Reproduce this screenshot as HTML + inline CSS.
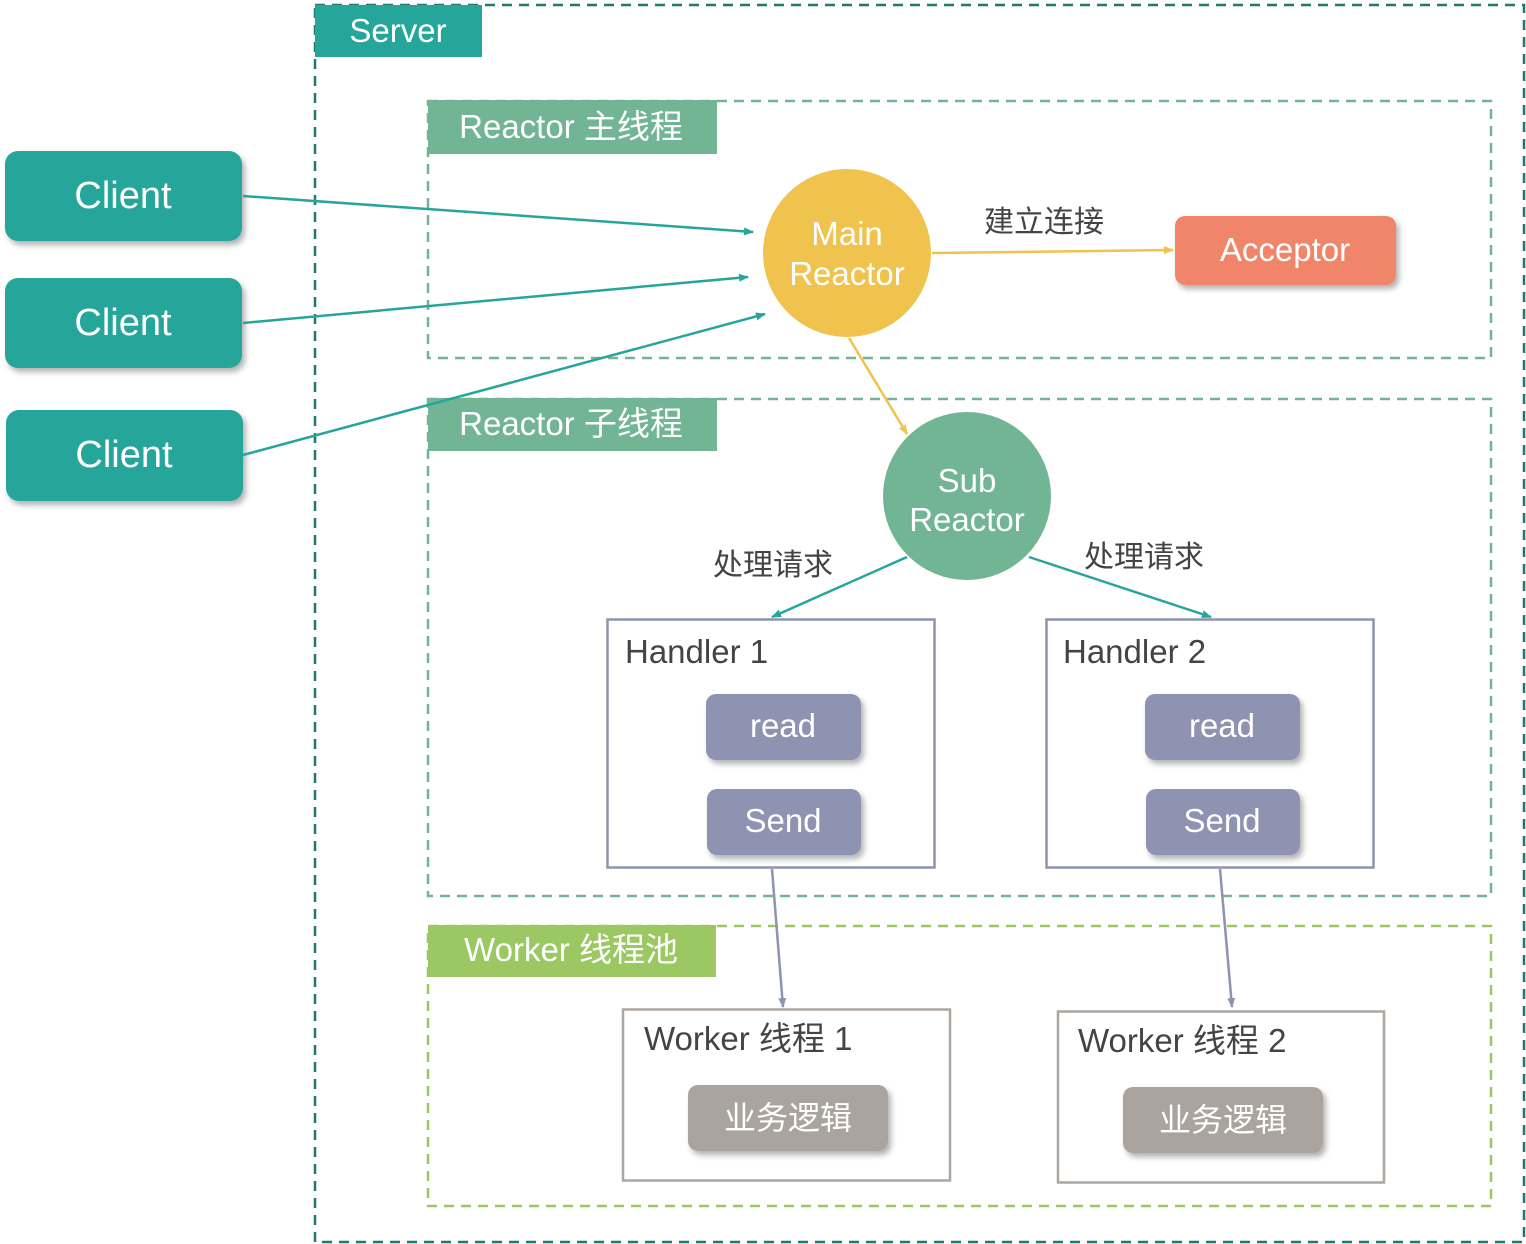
<!DOCTYPE html>
<html><head><meta charset="utf-8"><style>
html,body{margin:0;padding:0;background:#fff;}
svg{display:block;}
text{font-family:"Liberation Sans","Noto Sans CJK SC",sans-serif;}
</style></head><body>
<svg width="1526" height="1244" viewBox="0 0 1526 1244" xmlns="http://www.w3.org/2000/svg">
<defs>
<filter id="sh" x="-20%" y="-20%" width="150%" height="160%"><feDropShadow dx="3" dy="4" stdDeviation="3" flood-color="#000" flood-opacity="0.3"/></filter>
<marker id="at" markerWidth="10" markerHeight="10" refX="9" refY="5" orient="auto" markerUnits="userSpaceOnUse"><path d="M0,1 L10,5 L0,9 Z" fill="#26a69a"/></marker>
<marker id="ay" markerWidth="10" markerHeight="10" refX="9" refY="5" orient="auto" markerUnits="userSpaceOnUse"><path d="M0,1 L10,5 L0,9 Z" fill="#f0c34e"/></marker>
<marker id="ap" markerWidth="10" markerHeight="10" refX="9" refY="5" orient="auto" markerUnits="userSpaceOnUse"><path d="M0,1 L10,5 L0,9 Z" fill="#8e93b2"/></marker>
</defs>
<!-- Server -->
<rect x="315" y="5" width="1209" height="1237" fill="none" stroke="#1e7a70" stroke-width="2.5" stroke-dasharray="10,7"/>
<rect x="315" y="5" width="167" height="52" fill="#26a69a"/>
<text x="398" y="42" font-size="33" fill="#fff" text-anchor="middle">Server</text>
<!-- Reactor main -->
<rect x="428" y="101" width="1063" height="257" fill="none" stroke="#72b594" stroke-width="2.5" stroke-dasharray="10,7"/>
<rect x="428" y="100" width="289" height="54" fill="#72b594"/>
<text x="571" y="138" font-size="33" fill="#fff" text-anchor="middle">Reactor 主线程</text>
<!-- Reactor sub -->
<rect x="428" y="399" width="1063" height="497" fill="none" stroke="#72b594" stroke-width="2.5" stroke-dasharray="10,7"/>
<rect x="428" y="398" width="289" height="53" fill="#72b594"/>
<text x="571" y="435" font-size="33" fill="#fff" text-anchor="middle">Reactor 子线程</text>
<!-- Worker -->
<rect x="428" y="926" width="1063" height="280" fill="none" stroke="#9bc75d" stroke-width="2.5" stroke-dasharray="10,7"/>
<rect x="428" y="925" width="288" height="52" fill="#9bc862"/>
<text x="571" y="961" font-size="33" fill="#fff" text-anchor="middle">Worker 线程池</text>
<!-- Clients -->
<g filter="url(#sh)">
<rect x="5" y="151" width="237" height="90" rx="13" fill="#26a69a"/>
<rect x="5" y="278" width="237" height="90" rx="13" fill="#26a69a"/>
<rect x="6" y="410" width="237" height="91" rx="13" fill="#26a69a"/>
</g>
<text x="123" y="208" font-size="38" fill="#fff" text-anchor="middle">Client</text>
<text x="123" y="335" font-size="38" fill="#fff" text-anchor="middle">Client</text>
<text x="124" y="467" font-size="38" fill="#fff" text-anchor="middle">Client</text>
<!-- arrows clients -->
<line x1="243" y1="196" x2="753" y2="232" stroke="#26a69a" stroke-width="2.5" marker-end="url(#at)"/>
<line x1="243" y1="323" x2="748" y2="277" stroke="#26a69a" stroke-width="2.5" marker-end="url(#at)"/>
<line x1="243" y1="455" x2="765" y2="314" stroke="#26a69a" stroke-width="2.5" marker-end="url(#at)"/>
<!-- Main Reactor -->
<circle cx="847" cy="253" r="84" fill="#f0c34e"/>
<text x="847" y="245" font-size="33" fill="#fff" text-anchor="middle">Main</text>
<text x="847" y="285" font-size="33" fill="#fff" text-anchor="middle">Reactor</text>
<line x1="932" y1="253" x2="1173" y2="250" stroke="#f0c34e" stroke-width="2.5" marker-end="url(#ay)"/>
<text x="1044" y="232" font-size="30" fill="#444" text-anchor="middle">建立连接</text>
<rect x="1175" y="216" width="221" height="69" rx="10" fill="#f0856a" filter="url(#sh)"/>
<text x="1285" y="261" font-size="33" fill="#fff" text-anchor="middle">Acceptor</text>
<line x1="849" y1="338" x2="907" y2="434" stroke="#f0c34e" stroke-width="2.5" marker-end="url(#ay)"/>
<!-- Sub Reactor -->
<circle cx="967" cy="496" r="84" fill="#72b594"/>
<text x="967" y="492" font-size="33" fill="#fff" text-anchor="middle">Sub</text>
<text x="967" y="531" font-size="33" fill="#fff" text-anchor="middle">Reactor</text>
<line x1="907" y1="557" x2="772" y2="617" stroke="#26a69a" stroke-width="2.5" marker-end="url(#at)"/>
<line x1="1029" y1="557" x2="1211" y2="617" stroke="#26a69a" stroke-width="2.5" marker-end="url(#at)"/>
<text x="773" y="575" font-size="30" fill="#444" text-anchor="middle">处理请求</text>
<text x="1144" y="567" font-size="30" fill="#444" text-anchor="middle">处理请求</text>
<!-- Handlers -->
<rect x="607.5" y="619.5" width="327" height="248" fill="#fff" stroke="#8e93b0" stroke-width="2.5"/>
<rect x="1046.5" y="619.5" width="327" height="248" fill="#fff" stroke="#8e93b0" stroke-width="2.5"/>
<text x="625" y="663" font-size="33" fill="#444">Handler 1</text>
<text x="1063" y="663" font-size="33" fill="#444">Handler 2</text>
<g filter="url(#sh)" fill="#8e93b2">
<rect x="706" y="694" width="155" height="66" rx="10"/>
<rect x="707" y="789" width="154" height="66" rx="10"/>
<rect x="1145" y="694" width="155" height="66" rx="10"/>
<rect x="1146" y="789" width="154" height="66" rx="10"/>
</g>
<text x="783" y="737" font-size="33" fill="#fff" text-anchor="middle">read</text>
<text x="783" y="832" font-size="33" fill="#fff" text-anchor="middle">Send</text>
<text x="1222" y="737" font-size="33" fill="#fff" text-anchor="middle">read</text>
<text x="1222" y="832" font-size="33" fill="#fff" text-anchor="middle">Send</text>
<line x1="772" y1="869" x2="783" y2="1007" stroke="#8e93b2" stroke-width="2.5" marker-end="url(#ap)"/>
<line x1="1220" y1="869" x2="1232" y2="1007" stroke="#8e93b2" stroke-width="2.5" marker-end="url(#ap)"/>
<!-- Workers -->
<rect x="623" y="1009.5" width="327" height="171" fill="#fff" stroke="#ada6a0" stroke-width="2.5"/>
<rect x="1058" y="1011.5" width="326" height="171" fill="#fff" stroke="#ada6a0" stroke-width="2.5"/>
<text x="644" y="1050" font-size="33" fill="#444">Worker 线程 1</text>
<text x="1078" y="1052" font-size="33" fill="#444">Worker 线程 2</text>
<g filter="url(#sh)" fill="#aba49e">
<rect x="688" y="1085" width="200" height="66" rx="10"/>
<rect x="1123" y="1087" width="200" height="66" rx="10"/>
</g>
<text x="788" y="1129" font-size="32" fill="#fff" text-anchor="middle">业务逻辑</text>
<text x="1223" y="1131" font-size="32" fill="#fff" text-anchor="middle">业务逻辑</text>
</svg>
</body></html>
